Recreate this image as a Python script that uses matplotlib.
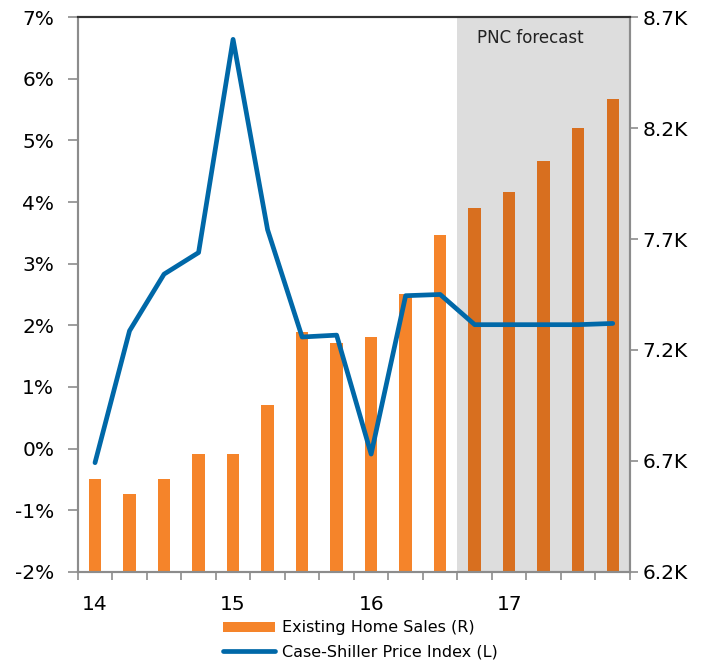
import numpy as np
import matplotlib.pyplot as plt
from matplotlib.ticker import FixedLocator, NullFormatter

# quarters 2014Q1 .. 2017Q4
quarters = ['14Q1', '14Q2', '14Q3', '14Q4', '15Q1', '15Q2', '15Q3', '15Q4',
            '16Q1', '16Q2', '16Q3', '16Q4', '17Q1', '17Q2', '17Q3', '17Q4']
year_labels = ['14', '15', '16', '17']

# existing home sales, thousands (right axis)
home_sales = [6.62, 6.55, 6.62, 6.73, 6.73, 6.95, 7.28, 7.23,
              7.26, 7.45, 7.72, 7.84, 7.91, 8.05, 8.20, 8.33]
# Case-Shiller price index, % (left axis)
case_shiller = [-0.23, 1.91, 2.83, 3.18, 6.64, 3.55, 1.81, 1.84,
                -0.09, 2.48, 2.50, 2.01, 2.01, 2.01, 2.01, 2.03]
forecast_start = 11  # first forecast quarter (16Q4)

light_orange = '#F5842A'
dark_orange = '#D86F1F'
blue = '#0068A8'
axis_gray = '#8C8C8C'

fig = plt.figure(figsize=(7.2, 6.61), dpi=100)
ax = fig.add_axes([0.108, 0.135, 0.767, 0.839])
ax2 = ax.twinx()
ax.set_zorder(ax2.get_zorder() + 1)
ax.patch.set_visible(False)

x = np.arange(len(quarters))
n = len(quarters)

# forecast shading
ax2.axvspan(forecast_start - 0.5, n - 0.5, color='#DDDDDD', zorder=0, lw=0)
colors = [light_orange if i < forecast_start else dark_orange for i in range(n)]
ax2.bar(x, home_sales, width=0.36, color=colors, zorder=2,
        label='Existing Home Sales (R)')
ax2.set_ylim(6.2, 8.7)
ax2.set_yticks([6.2, 6.7, 7.2, 7.7, 8.2, 8.7])
ax2.set_yticklabels(['%.1fK' % v for v in [6.2, 6.7, 7.2, 7.7, 8.2, 8.7]])
ax2.text(12.6, 0.962, 'PNC forecast', transform=ax2.get_xaxis_transform(),
         ha='center', va='center', fontsize=12, color='#222222')

ax.plot(x, case_shiller, color=blue, lw=3.4, solid_capstyle='round',
        label='Case-Shiller Price Index (L)', zorder=5)
ax.set_ylim(-2, 7)
ax.set_yticks(range(-2, 8))
ax.set_yticklabels(['%d%%' % v for v in range(-2, 8)])
ax.set_xlim(-0.5, n - 0.5)

# boundary ticks, year labels in between
ax.xaxis.set_major_locator(FixedLocator(np.arange(-0.5, n, 1)))
ax.xaxis.set_major_formatter(NullFormatter())
ax.xaxis.set_minor_locator(FixedLocator([0, 4, 8, 12]))
ax.set_xticklabels(year_labels, minor=True)
ax.tick_params(axis='x', which='minor', length=0, pad=17, labelsize=14.5)
ax.tick_params(axis='x', which='major', length=6, color=axis_gray, width=1.2)
ax.tick_params(axis='y', length=7, color=axis_gray, width=1.2, pad=10, labelsize=14.5)
ax2.tick_params(axis='y', length=6, color=axis_gray, width=1.2, pad=3, labelsize=14.5)

for a in (ax, ax2):
    for side in ('left', 'right', 'bottom'):
        a.spines[side].set_color(axis_gray)
        a.spines[side].set_linewidth(1.5)
    a.spines['top'].set_color('#333333')
    a.spines['top'].set_linewidth(1.5)

h1, l1 = ax2.get_legend_handles_labels()
h2, l2 = ax.get_legend_handles_labels()
fig.legend(h1 + h2, l1 + l2, loc='center', bbox_to_anchor=(0.5, 0.032),
           frameon=False, fontsize=11.5, handlelength=3.3, handleheight=0.6,
           labelspacing=0.55, handletextpad=0.4)

fig.savefig('out.png', dpi=100)
